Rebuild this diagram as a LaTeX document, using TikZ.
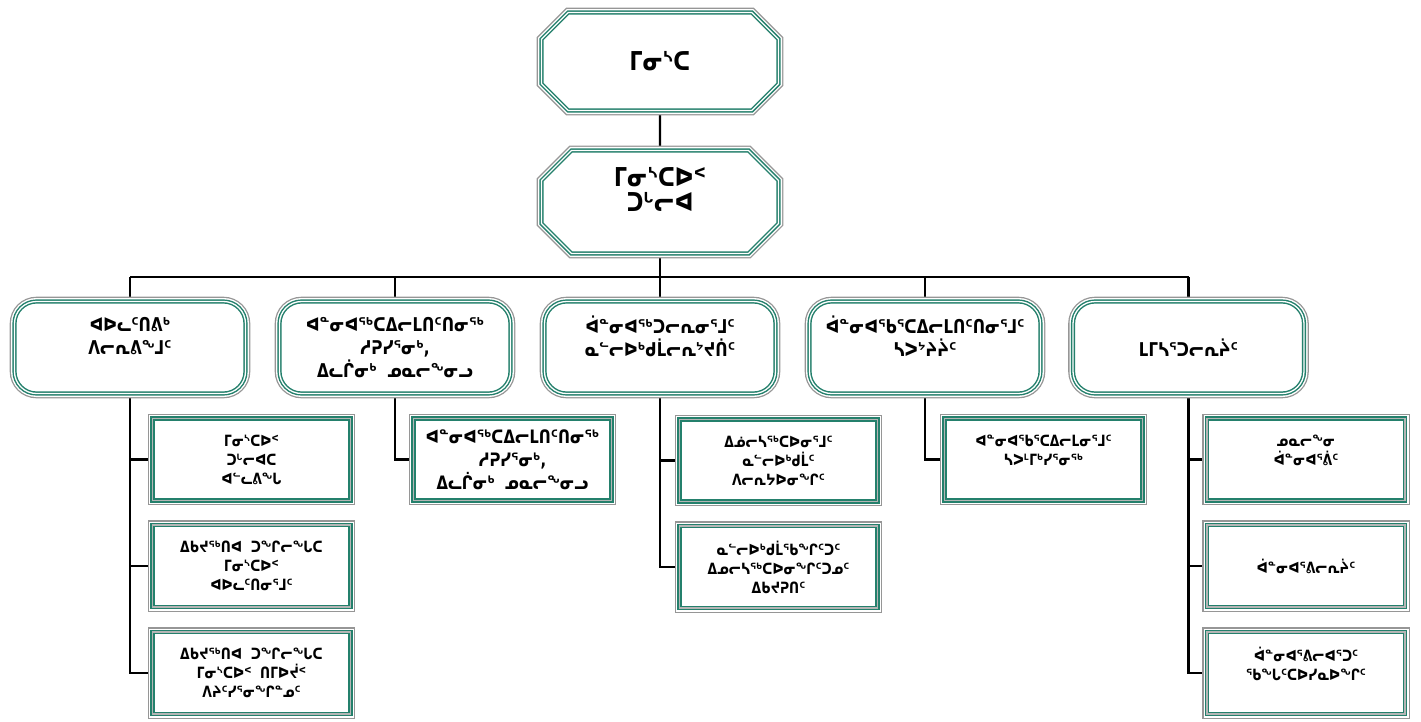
\documentclass[tikz,border=0pt]{standalone}
\usepackage{fontspec}
\setmainfont{DejaVu Sans}[FakeStretch=0.8]
\usetikzlibrary{shapes.misc,backgrounds}
\definecolor{orgteal}{RGB}{36,128,108}
\definecolor{orggray}{RGB}{150,150,150}

\tikzset{
  frame/.style={draw=orgteal, line width=4.2pt, fill=white, align=center, inner sep=2pt,
    preaction={draw=orggray, line width=9.6pt}, preaction={draw=white, line width=7pt},
    postaction={draw=white, line width=1.3pt}},
  chief/.style={frame, chamfered rectangle, chamfered rectangle sep=15pt,
    minimum width=237pt, minimum height=98pt, font=\bfseries\fontsize{26}{25}\selectfont},
  division/.style={frame, rounded corners=22pt, minimum width=231pt, minimum height=92pt,
    font=\bfseries\fontsize{19}{23}\selectfont},
  unit/.style={frame, postaction={draw=orggray!70, line width=1.1pt},
    minimum width=198pt, minimum height=82pt, font=\bfseries\fontsize{15.5}{19}\selectfont},
  link/.style={line width=2.2pt}
}

\begin{document}
\begin{tikzpicture}[x=1pt,y=-1pt]
\useasboundingbox (0,0) rectangle (1421,721);

\node [chief] (chief) at (660,61.5) {ᒥᓂᔅᑕ};
\node [chief] (deputy) at (660,202) {ᒥᓂᔅᑕᐅᑉ\\ᑐᒡᓕᐊ\\ \mbox{}};
\coordinate (bus) at (660,277);

%divisions
\node [division] (adm) at (130,347.5) {ᐊᐅᓚᑦᑎᕕᒃ\\ᐱᓕᕆᕕᖕᒧᑦ\\ \mbox{}};
\node [division] (pre) at (395,347.5) {ᐊᓐᓂᐊᖅᑕᐃᓕᒪᑎᑦᑎᓂᖅ\\ᓱᕈᓯᕐᓂᒃ,\\ᐃᓚᒌᓂᒃ\ \ ᓄᓇᓕᖕᓂᓗ};
\node [division] (hlt) at (660,347.5) {ᐋᓐᓂᐊᖅᑐᓕᕆᓂᕐᒧᑦ\\ᓇᓪᓕᐅᒃᑯᒫᓕᕆᔾᔪᑏᑦ\\ \mbox{}};
\node [division] (pro) at (925,347.5) {ᐋᓐᓂᐊᖃᕐᑕᐃᓕᒪᑎᑦᑎᓂᕐᒧᑦ\\ᓴᐳᔾᔨᔩᑦ\\ \mbox{}};
\node [division] (mhs) at (1188.5,347.5) {ᒪᒥᓴᕐᑐᓕᕆᔩᑦ};

%units
\node [unit] (adm1) at (251.5,459.5) {ᒥᓂᔅᑕᐅᑉ\\ᑐᒡᓕᐊᑕ\\ᐊᓪᓚᕕᖓ};
\node [unit] (adm2) at (251.5,566) {ᐃᑲᔪᖅᑎᐊ\ \ ᑐᖏᓕᖓᑕ\\ᒥᓂᔅᑕᐅᑉ\\ᐊᐅᓚᑦᑎᓂᕐᒧᑦ};
\node [unit] (adm3) at (251.5,673) {ᐃᑲᔪᖅᑎᐊ\ \ ᑐᖏᓕᖓᑕ\\ᒥᓂᔅᑕᐅᑉ\ \ ᑎᒥᐅᔫᑉ\\ᐱᔨᑦᓯᕐᓂᖏᓐᓄᑦ};
\node [unit,font=\bfseries\fontsize{18.5}{23}\selectfont] (pre1) at (512.5,459.5) {ᐊᓐᓂᐊᖅᑕᐃᓕᒪᑎᑦᑎᓂᖅ\\ᓱᕈᓯᕐᓂᒃ,\\ᐃᓚᒌᓂᒃ\ \ ᓄᓇᓕᖕᓂᓗ};
\node [unit] (hlt1) at (778.5,460.5) {ᐃᓅᓕᓴᖅᑕᐅᓂᕐᒧᑦ\\ᓇᓪᓕᐅᒃᑯᒫᑦ\\ᐱᓕᕆᔭᐅᓂᖏᑦ};
\node [unit] (hlt2) at (778.5,567) {ᓇᓪᓕᐅᒃᑯᒫᖃᖏᑦᑐᑦ\\ᐃᓄᓕᓴᖅᑕᐅᓂᖏᑦᑐᓄᑦ\\ᐃᑲᔪᕈᑎᑦ};
\node [unit] (pro1) at (1043.5,459.5) {ᐊᓐᓂᐊᖃᕐᑕᐃᓕᒪᓂᕐᒧᑦ\\ᓴᐳᒻᒥᒃᓯᕐᓂᖅ\\ \mbox{}};
\node [unit] (mhs1) at (1306,459.5) {ᓄᓇᓕᖕᓂ\\ᐋᓐᓂᐊᕐᕖᑦ\\ \mbox{}};
\node [unit] (mhs2) at (1306,566) {ᐋᓐᓂᐊᕐᕕᓕᕆᔩᑦ};
\node [unit] (mhs3) at (1306,673) {ᐋᓐᓂᐊᕐᕕᓕᐊᕐᑐᑦ\\ᖃᖓᑦᑕᐅᓯᓇᐅᖏᑦ\\ \mbox{}};

\begin{scope}[on background layer]
\draw [link] (chief) -- (deputy);
\draw [link] (deputy) -- (bus);
\draw [link] (adm |- bus) -- (mhs |- bus);
\foreach \d in {adm,pre,hlt,pro,mhs}
  \draw [link] (\d |- bus) -- (\d);
\foreach \u in {adm1,adm2,adm3}
  \draw [link] (adm) |- (\u.west);
\draw [link] (pre) |- (pre1.west);
\foreach \u in {hlt1,hlt2}
  \draw [link] (hlt) |- (\u.west);
\draw [link] (pro) |- (pro1.west);
\foreach \u in {mhs1,mhs2,mhs3}
  \draw [link] (mhs) |- (\u.west);
\end{scope}
\end{tikzpicture}
\end{document}
